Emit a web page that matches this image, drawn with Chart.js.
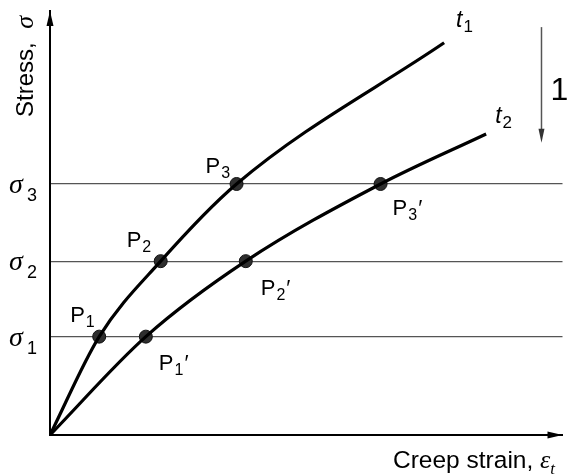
<!DOCTYPE html>
<html>
<head>
<meta charset="utf-8">
<script src="https://cdn.jsdelivr.net/npm/chart.js@4"></script>
<style>
  body { margin: 0; background: #fff; }
  canvas { display: block; }
</style>
</head>
<body>
<canvas id="creepChart" width="570" height="475"></canvas>
<script>
// stress levels (horizontal lines) and their subscripts
const sigmaLevels = [23.2, 41.0, 59.2];
const sigmaSubs = ['1', '2', '3'];

// isochronous curves, strain vs stress
const t1Strain = [0, 9.6, 21.6, 36.4, 76.9];
const t1Stress = [0, 23.2, 41.0, 59.2, 92.5];
const t2Strain = [0, 18.7, 38.2, 64.5, 85.1];
const t2Stress = [0, 23.2, 41.0, 59.2, 71.0];

// marked points
const pStrain = [9.6, 21.6, 36.4];
const pStress = [23.2, 41.0, 59.2];
const pDashStrain = [18.7, 38.2, 64.5];
const pDashStress = [23.2, 41.0, 59.2];
const pSubs = ['1', '2', '3'];

// time arrow "1"
const timeArrowX = 95.9;
const timeArrowY = [96.2, 68.9];

function toXY(xs, ys) {
  return xs.map((x, i) => ({x: x, y: ys[i]}));
}

function subText(ctx, x, y, main, sub, mainFont, subFont, subDy, tail) {
  ctx.font = mainFont;
  ctx.fillText(main, x, y);
  let w = ctx.measureText(main).width;
  ctx.font = subFont;
  ctx.fillText(sub, x + w + 1, y + subDy);
  let w2 = ctx.measureText(sub).width;
  if (tail) {
    ctx.font = mainFont;
    ctx.fillText(tail, x + w + 2 + w2, y);
  }
}

const sansFont = '"Liberation Sans", Arial, sans-serif';
const serifFont = '"Liberation Serif", "Times New Roman", serif';

const annotations = {
  id: 'annotations',
  afterDraw(chart) {
    const ctx = chart.ctx;
    const xs = chart.scales.x, ys = chart.scales.y;
    ctx.save();
    ctx.fillStyle = '#000';
    ctx.textAlign = 'left';
    ctx.textBaseline = 'alphabetic';

    // axis arrowheads
    const x0 = xs.left, y0 = ys.bottom;
    ctx.beginPath();
    ctx.moveTo(x0, ys.top);
    ctx.lineTo(x0 - 3.5, ys.top + 15);
    ctx.lineTo(x0 + 3.5, ys.top + 15);
    ctx.closePath();
    ctx.fill();
    ctx.beginPath();
    ctx.moveTo(xs.right, y0);
    ctx.lineTo(xs.right - 15, y0 - 3.5);
    ctx.lineTo(xs.right - 15, y0 + 3.5);
    ctx.closePath();
    ctx.fill();

    // sigma labels
    sigmaLevels.forEach((v, i) => {
      const py = ys.getPixelForValue(v);
      ctx.font = 'italic 28px ' + serifFont;
      ctx.fillText('σ', 9, py + 9);
      ctx.font = '18px ' + sansFont;
      ctx.fillText(sigmaSubs[i], 27, py + 17);
    });

    // point labels
    const pOff = [[-29, -15], [-34, -14], [-31, -11]];
    const qOff = [[13, 33], [15, 34], [12, 31]];
    const pFont = '22px ' + sansFont, pSubFont = '16px ' + sansFont;
    pStrain.forEach((v, i) => {
      const px = xs.getPixelForValue(v), py = ys.getPixelForValue(pStress[i]);
      subText(ctx, px + pOff[i][0], py + pOff[i][1], 'P', pSubs[i], pFont, pSubFont, 5);
    });
    pDashStrain.forEach((v, i) => {
      const px = xs.getPixelForValue(v), py = ys.getPixelForValue(pDashStress[i]);
      subText(ctx, px + qOff[i][0], py + qOff[i][1], 'P', pSubs[i], pFont, pSubFont, 5, '′');
    });

    // curve names
    const e1x = xs.getPixelForValue(t1Strain[t1Strain.length - 1]);
    const e1y = ys.getPixelForValue(t1Stress[t1Stress.length - 1]);
    subText(ctx, e1x + 12, e1y - 16, 't', '1', 'italic 23px ' + sansFont, '17px ' + sansFont, 5);
    const e2x = xs.getPixelForValue(t2Strain[t2Strain.length - 1]);
    const e2y = ys.getPixelForValue(t2Stress[t2Stress.length - 1]);
    subText(ctx, e2x + 9, e2y - 11, 't', '2', 'italic 23px ' + sansFont, '17px ' + sansFont, 5);

    // time arrow
    const ax = xs.getPixelForValue(timeArrowX);
    const ay1 = ys.getPixelForValue(timeArrowY[0]);
    const ay2 = ys.getPixelForValue(timeArrowY[1]);
    ctx.strokeStyle = '#555';
    ctx.fillStyle = '#333';
    ctx.lineWidth = 1.5;
    ctx.beginPath();
    ctx.moveTo(ax, ay1);
    ctx.lineTo(ax, ay2 - 10);
    ctx.stroke();
    ctx.beginPath();
    ctx.moveTo(ax, ay2);
    ctx.lineTo(ax - 3, ay2 - 14);
    ctx.lineTo(ax + 3, ay2 - 14);
    ctx.closePath();
    ctx.fill();
    ctx.fillStyle = '#000';
    ctx.font = '32px ' + sansFont;
    ctx.fillText('1', ax + 9, (ay1 + ay2) / 2 + 15);

    // axis titles
    ctx.font = '24.5px ' + sansFont;
    ctx.fillText('Creep strain,', 393, 468);
    let w = ctx.measureText('Creep strain, ').width;
    ctx.font = 'italic 26px ' + serifFont;
    ctx.fillText('ε', 393 + w, 468);
    let w2 = ctx.measureText('ε').width;
    ctx.font = 'italic 17px ' + serifFont;
    ctx.fillText('t', 393 + w + w2, 474);

    ctx.save();
    ctx.translate(33, 117);
    ctx.rotate(-Math.PI / 2);
    ctx.font = '24px ' + sansFont;
    ctx.fillText('Stress,', 0, 0);
    let w3 = ctx.measureText('Stress, ').width;
    ctx.font = 'italic 26px ' + serifFont;
    ctx.fillText('σ', w3 + 7, 0);
    ctx.restore();

    ctx.restore();
  }
};

const data = {
  datasets: [
    {
      type: 'line',
      data: toXY(t1Strain, t1Stress),
      borderColor: '#000',
      borderWidth: 3.2,
      pointRadius: 0,
      cubicInterpolationMode: 'monotone',
      fill: false
    },
    {
      type: 'line',
      data: toXY(t2Strain, t2Stress),
      borderColor: '#000',
      borderWidth: 3.2,
      pointRadius: 0,
      cubicInterpolationMode: 'monotone',
      fill: false
    },
    {
      type: 'scatter',
      data: toXY(pStrain.concat(pDashStrain), pStress.concat(pDashStress)),
      pointRadius: 6.5,
      backgroundColor: '#2e2e2e',
      borderColor: '#111',
      borderWidth: 1
    }
  ]
};

const config = {
  type: 'line',
  data: data,
  options: {
    responsive: false,
    animation: false,
    layout: { padding: { left: 50, right: 4, top: 11, bottom: 40 } },
    plugins: {
      legend: { display: false },
      tooltip: { enabled: false }
    },
    scales: {
      x: {
        type: 'linear',
        min: 0,
        max: 100,
        grid: { display: false, drawTicks: false },
        ticks: { display: false },
        border: { display: true, color: '#000', width: 2 }
      },
      y: {
        type: 'linear',
        min: 0,
        max: 100,
        afterBuildTicks: (scale) => {
          scale.ticks = sigmaLevels.map(v => ({ value: v }));
        },
        grid: { display: true, drawTicks: false, color: '#555', lineWidth: 1.2 },
        ticks: { display: false },
        border: { display: true, color: '#000', width: 2 }
      }
    }
  },
  plugins: [annotations]
};

const myChart = new Chart(document.getElementById('creepChart'), config);
</script>
</body>
</html>
